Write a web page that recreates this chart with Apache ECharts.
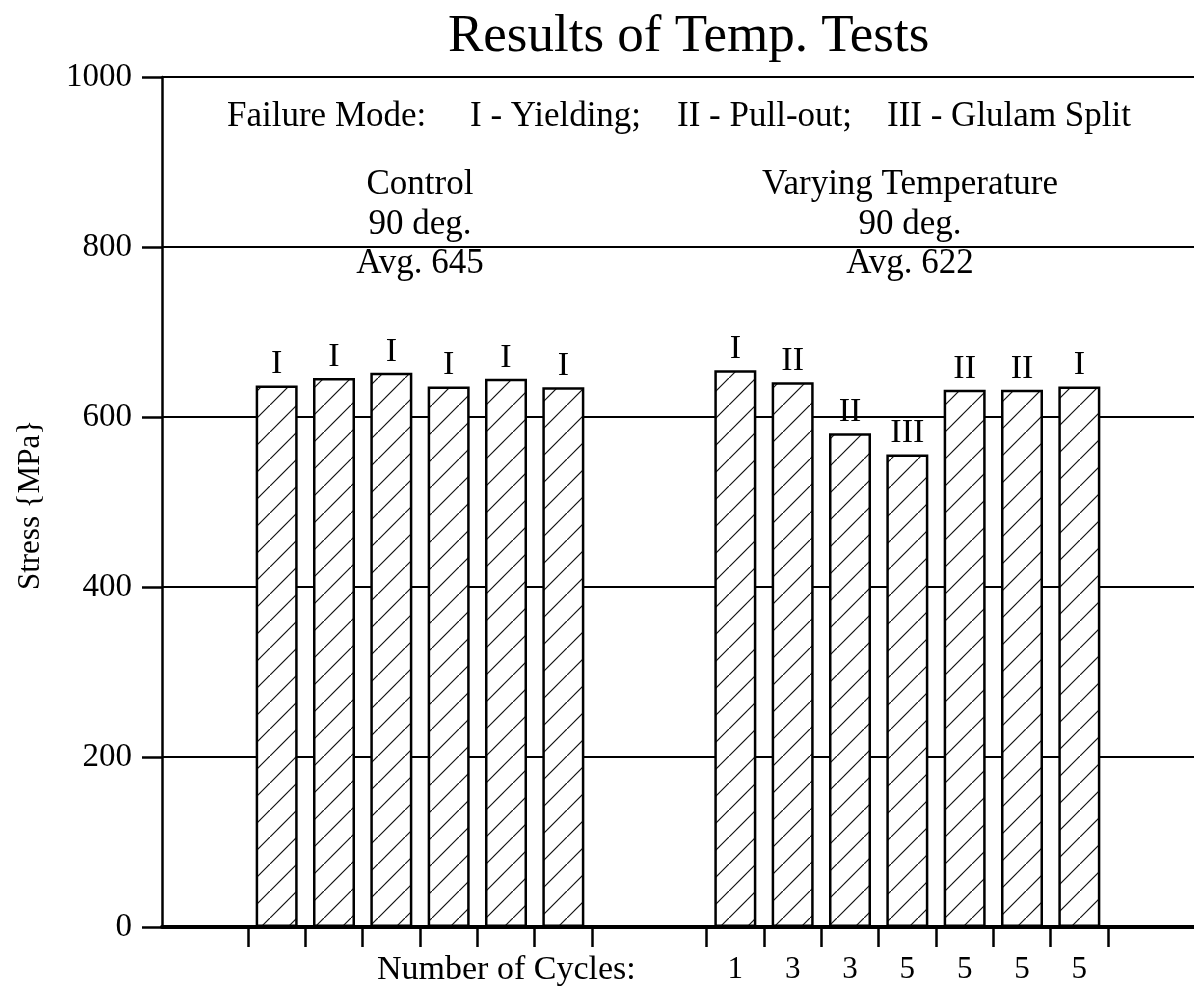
<!DOCTYPE html>
<html>
<head>
<meta charset="utf-8">
<script src="https://cdn.jsdelivr.net/npm/echarts@6/dist/echarts.min.js"></script>
<style>
  html, body { margin: 0; padding: 0; background: #fff; }
  #chart { width: 1194px; height: 992px; }
</style>
</head>
<body>
<div id="chart"></div>
<script>
// Stress at failure for each specimen, with its failure mode
const controlStress = [637, 646, 652, 636, 645, 635];
const controlMode = ['I', 'I', 'I', 'I', 'I', 'I'];
const varyingStress = [655, 641, 581, 556, 632, 632, 636];
const varyingMode = ['I', 'II', 'II', 'III', 'II', 'II', 'I'];
const varyingCycles = ['1', '3', '3', '5', '5', '5', '5'];

const controlInfo = ['Control', '90 deg.', 'Avg. 645'];
const varyingInfo = ['Varying Temperature', '90 deg.', 'Avg. 622'];
const failureModes = ['Failure Mode:', 'I - Yielding;', 'II - Pull-out;', 'III - Glulam Split'];

const FONT = '"Liberation Serif", "Times New Roman", serif';
const GROUP_GAP = 2;                       // empty slots between the two groups
const varyingStart = controlStress.length + GROUP_GAP;

// diagonal hatch used to fill the bars
function hatchPattern() {
  const s = 27;
  const c = document.createElement('canvas');
  c.width = s; c.height = s;
  const g = c.getContext('2d');
  g.fillStyle = '#fff';
  g.fillRect(0, 0, s, s);
  g.strokeStyle = '#111';
  g.lineWidth = 1.2;
  g.beginPath();
  g.moveTo(-3, s + 3); g.lineTo(s + 3, -3);
  g.stroke();
  return c;
}

const hatch = { image: hatchPattern(), repeat: 'repeat' };

const barData = [];
controlStress.forEach((v, i) => barData.push({ name: controlMode[i], value: [i, v] }));
varyingStress.forEach((v, i) => barData.push({ name: varyingMode[i], value: [varyingStart + i, v] }));

// tick marks sit on the boundaries between neighbouring bars
const tickValues = [];
for (let i = 0; i <= controlStress.length; i++) tickValues.push(i - 0.5);
for (let i = 0; i <= varyingStress.length; i++) tickValues.push(varyingStart + i - 0.5);
const cycleValues = varyingStress.map((_, i) => varyingStart + i);

const textStyle = (size) => ({ font: size + 'px ' + FONT, fill: '#000' });

const graphics = [];
const modeX = [227, 470, 677, 887];
failureModes.forEach((t, i) => graphics.push({
  type: 'text', x: modeX[i], y: 117,
  style: Object.assign(textStyle(35), { text: t, textAlign: 'left', textVerticalAlign: 'middle' })
}));
const infoY = [185, 225, 264];
controlInfo.forEach((t, i) => graphics.push({
  type: 'text', x: 420, y: infoY[i],
  style: Object.assign(textStyle(35), { text: t, textAlign: 'center', textVerticalAlign: 'middle' })
}));
varyingInfo.forEach((t, i) => graphics.push({
  type: 'text', x: 910, y: infoY[i],
  style: Object.assign(textStyle(35), { text: t, textAlign: 'center', textVerticalAlign: 'middle' })
}));
graphics.push({
  type: 'text', x: 377, y: 970,
  style: Object.assign(textStyle(34), { text: 'Number of Cycles:', textAlign: 'left', textVerticalAlign: 'middle' })
});
graphics.push({
  type: 'text', x: 31, y: 505, rotation: Math.PI / 2,
  style: Object.assign(textStyle(31), { text: 'Stress {MPa}', textAlign: 'center', textVerticalAlign: 'middle' })
});

const chart = echarts.init(document.getElementById('chart'), null, { renderer: 'canvas' });
chart.setOption({
  backgroundColor: '#fff',
  animation: false,
  title: {
    text: 'Results of Temp. Tests',
    left: 443, top: 6,
    textStyle: { fontFamily: FONT, fontSize: 53, fontWeight: 'normal', color: '#000' }
  },
  grid: { left: 162, right: 0, top: 77, bottom: 65, containLabel: false },
  xAxis: {
    type: 'value',
    min: -2, max: 16,
    axisLine: { show: true, onZero: false, lineStyle: { color: '#000', width: 4 } },
    axisTick: { show: true, customValues: tickValues, length: 20, lineStyle: { color: '#000', width: 2.5 } },
    axisLabel: {
      show: true, customValues: cycleValues, margin: 27,
      fontFamily: FONT, fontSize: 31, color: '#000',
      formatter: (v) => varyingCycles[Math.round(v) - varyingStart]
    },
    splitLine: { show: false }
  },
  yAxis: {
    type: 'value',
    min: 0, max: 1000, interval: 200,
    axisLine: { show: true, onZero: false, lineStyle: { color: '#000', width: 2.5 } },
    axisTick: { show: true, length: 20, lineStyle: { color: '#000', width: 2.5 } },
    axisLabel: { fontFamily: FONT, fontSize: 33, color: '#000', margin: 30, formatter: (v) => String(v) },
    splitLine: { show: true, lineStyle: { color: '#000', width: 2 } }
  },
  series: [{
    type: 'bar',
    data: barData,
    barWidth: 42,
    itemStyle: { color: hatch, borderColor: '#000', borderWidth: 2.5 },
    label: {
      show: true, position: 'top', distance: 4,
      formatter: '{b}',
      fontFamily: FONT, fontSize: 34, color: '#000'
    }
  }],
  graphic: graphics
});
</script>
</body>
</html>
